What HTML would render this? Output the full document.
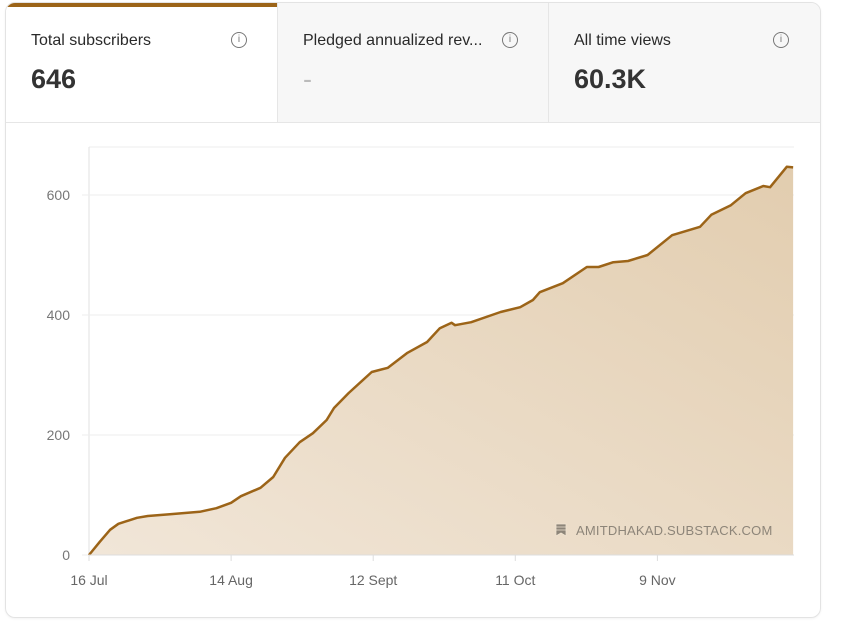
<!DOCTYPE html>
<html><head><meta charset="utf-8"><style>
body{margin:0;width:843px;height:626px;background:#fff;font-family:"Liberation Sans",sans-serif;overflow:hidden;position:relative}
.card{position:absolute;left:5px;top:2px;width:814px;height:614px;border:1px solid #e3e3e3;border-radius:10px;overflow:hidden;box-shadow:0 1px 2px rgba(0,0,0,.05)}
.tab{position:absolute;top:0;height:119px;background:#f7f7f7;border-bottom:1px solid #e6e6e6}
.tab .t{position:absolute;left:25px;top:29px;font-size:16px;color:#2a2a2a}
.tab .v{position:absolute;left:25px;top:61px;font-size:27px;font-weight:bold;color:#333}
.tab .i{position:absolute;top:29px;width:14px;height:14px;border:1.5px solid #777;border-radius:50%;font-size:10px;color:#777;text-align:center;line-height:14px}
</style></head><body>
<div class="card">
<div class="tab" style="left:0;width:271px;background:#fff;border-right:1px solid #e6e6e6">
<div style="position:absolute;left:0;top:0;width:271px;height:4px;background:#9c6418"></div>
<div class="t">Total subscribers</div><div class="i" style="left:225px">i</div>
<div class="v">646</div></div>
<div class="tab" style="left:272px;width:270px;border-right:1px solid #e6e6e6">
<div class="t">Pledged annualized rev...</div><div class="i" style="left:224px">i</div>
<div class="v" style="color:#bbb;font-weight:normal">-</div></div>
<div class="tab" style="left:543px;width:271px">
<div class="t">All time views</div><div class="i" style="left:224px">i</div>
<div class="v">60.3K</div></div>
</div>
<svg id="chart" width="843" height="626" style="position:absolute;left:0;top:0">
<defs><linearGradient id="g" x1="0" y1="1" x2="1" y2="0"><stop offset="0" stop-color="#f1e6d8"/><stop offset="1" stop-color="#e2cdaf"/></linearGradient></defs>
</svg>
<script>
const days=[0,2.2,4.3,6,9.8,12,16.5,22.6,26,29,31,35,37.6,40,43,45.7,48.5,50,53,57.7,61,65,69,71.6,74,74.7,78,84,88,90.6,92,96.7,101.6,104,107,110,114,119,124.7,127,131,134,137.6,139,142.4,143.7];
const values=[0,22,42,52,62,65,68,72,78,87,98,112,130,162,188,203,225,245,270,305,312,337,355,378,387,383,388,405,413,425,438,453,480,480,488,490,500,533,547,567,583,603,615,613,647,646];
const yTicks=[0,200,400,600];
const xTickDays=[0,29,58,87,116];
const xTickLabels=["16 Jul","14 Aug","12 Sept","11 Oct","9 Nov"];
const NS="http://www.w3.org/2000/svg",svg=document.getElementById('chart');
const X=d=>89+d*4.9, Y=v=>555-v*0.6;
function mk(t,a){const e=document.createElementNS(NS,t);for(const k in a)e.setAttribute(k,a[k]);svg.appendChild(e);return e;}
let e=mk('line',{x1:89,x2:794,y1:147,y2:147,stroke:'#eee'});

e=mk('line',{x1:89,x2:89,y1:147,y2:555,stroke:'#e2e2e2'});

yTicks.forEach(v=>{
 const g=mk('line',{x1:82,x2:794,y1:Y(v),y2:Y(v),stroke:'#eeeeee'});
 
 const t=mk('text',{x:70,y:Y(v)+5,'text-anchor':'end','font-size':14,fill:'#777','font-family':'Liberation Sans'});t.textContent=v;
 
});
let pts=days.map((d,i)=>X(d)+','+Y(values[i])).join(' L');
e=mk('path',{d:'M'+pts+' L'+X(days[days.length-1])+','+Y(0)+' L'+X(0)+','+Y(0)+'Z',fill:'url(#g)'});

e=mk('path',{d:'M'+pts,fill:'none',stroke:'#9c6418','stroke-width':2.5,'stroke-linejoin':'round'});

e=mk('line',{x1:89,x2:794,y1:555,y2:555,stroke:'#ddd'});

xTickDays.forEach((d,i)=>{
 const k=mk('line',{x1:X(d),x2:X(d),y1:555,y2:561,stroke:'#ddd'});
 
 const t=mk('text',{x:X(d),y:585,'text-anchor':'middle','font-size':14,fill:'#666','font-family':'Liberation Sans'});t.textContent=xTickLabels[i];
 
});
e=mk('path',{d:'M556,524h10v12l-5,-3l-5,3zM556,527h10M556,530h10',fill:'#8d8579',stroke:'#efe3d1','stroke-width':0.8});

e=mk('text',{x:576,y:535,'font-size':13,fill:'#8d8579','font-family':'Liberation Sans','letter-spacing':'0.2'});e.textContent='AMITDHAKAD.SUBSTACK.COM';

</script>
</body></html>
